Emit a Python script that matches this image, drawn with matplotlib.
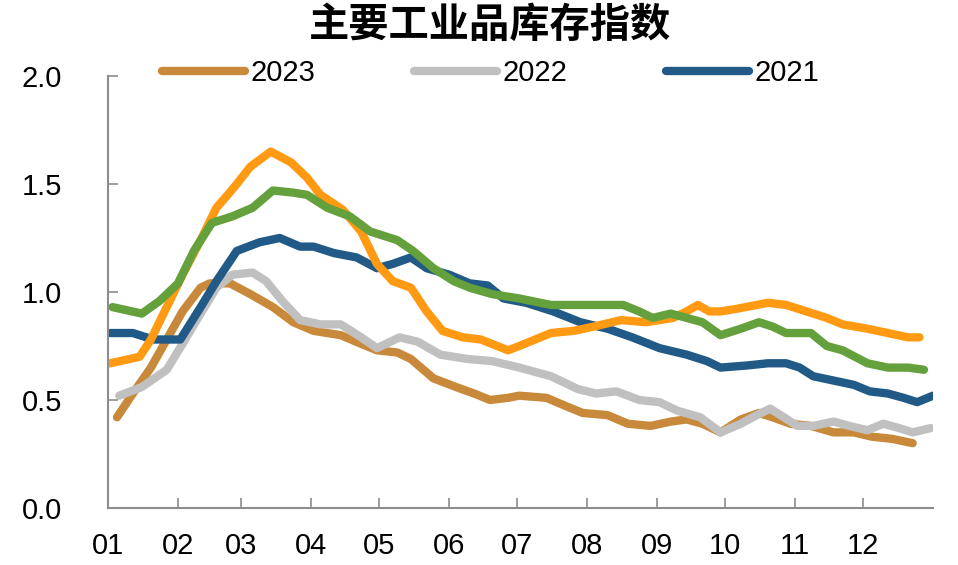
import matplotlib.pyplot as plt
from matplotlib.lines import Line2D

plt.rcParams['font.family'] = ['Liberation Sans', 'DejaVu Sans']

# day of year -> index value
d2023 = [4, 11, 19, 26, 33, 41, 45, 54, 63, 73, 82, 91, 103, 112, 119, 128, 134, 144, 154, 162,
         169, 177, 182, 194, 203, 210, 221, 230, 240, 249, 256, 263, 271, 280, 288, 294, 302, 311,
         321, 330, 338, 347, 356]
v2023 = [0.42, 0.53, 0.65, 0.78, 0.91, 1.02, 1.04, 1.04, 0.99, 0.93, 0.86, 0.82, 0.80, 0.76, 0.73,
         0.72, 0.69, 0.60, 0.56, 0.53, 0.50, 0.51, 0.52, 0.51, 0.47, 0.44, 0.43, 0.39, 0.38, 0.40,
         0.41, 0.39, 0.35, 0.41, 0.44, 0.42, 0.39, 0.38, 0.35, 0.35, 0.33, 0.32, 0.30]

d2022 = [5, 15, 26, 33, 41, 48, 55, 64, 70, 77, 85, 94, 103, 112, 119, 129, 137, 147, 159, 170,
         182, 196, 208, 216, 225, 235, 244, 252, 262, 271, 280, 287, 293, 299, 305, 312, 321, 328,
         336, 343, 350, 356, 364]
v2022 = [0.52, 0.56, 0.64, 0.76, 0.90, 1.02, 1.08, 1.09, 1.05, 0.96, 0.87, 0.85, 0.85, 0.79, 0.74,
         0.79, 0.77, 0.71, 0.69, 0.68, 0.65, 0.61, 0.55, 0.53, 0.54, 0.50, 0.49, 0.45, 0.42, 0.35,
         0.39, 0.43, 0.46, 0.42, 0.38, 0.38, 0.40, 0.38, 0.36, 0.39, 0.37, 0.35, 0.37]

d2021 = [1, 11, 20, 32, 41, 48, 57, 67, 76, 85, 91, 100, 110, 119, 126, 134, 141, 151, 160, 168,
         175, 185, 197, 209, 221, 232, 244, 256, 265, 271, 283, 292, 300, 306, 312, 321, 330, 337,
         345, 352, 358, 365]
v2021 = [0.81, 0.81, 0.78, 0.78, 0.93, 1.05, 1.19, 1.23, 1.25, 1.21, 1.21, 1.18, 1.16, 1.11, 1.13,
         1.16, 1.11, 1.08, 1.04, 1.03, 0.97, 0.95, 0.91, 0.86, 0.83, 0.79, 0.74, 0.71, 0.68, 0.65,
         0.66, 0.67, 0.67, 0.65, 0.61, 0.59, 0.57, 0.54, 0.53, 0.51, 0.49, 0.52]

d2020 = [1, 14, 19, 26, 33, 41, 48, 53, 57, 63, 72, 81, 88, 94, 104, 112, 119, 126, 134, 141,
         148, 157, 165, 177, 182, 196, 206, 215, 227, 238, 250, 256, 261, 266, 271, 277, 292, 300,
         309, 318, 325, 336, 345, 354, 359]
v2020 = [0.67, 0.70, 0.78, 0.93, 1.08, 1.24, 1.39, 1.45, 1.50, 1.58, 1.65, 1.60, 1.53, 1.45, 1.38,
         1.28, 1.13, 1.05, 1.02, 0.91, 0.82, 0.79, 0.78, 0.73, 0.75, 0.81, 0.82, 0.84, 0.87, 0.86,
         0.88, 0.91, 0.94, 0.91, 0.91, 0.92, 0.95, 0.94, 0.91, 0.88, 0.85, 0.83, 0.81, 0.79, 0.79]

d2019 = [2, 15, 23, 31, 38, 46, 55, 64, 73, 82, 88, 97, 107, 116, 128, 135, 144, 153, 160, 170,
         182, 196, 206, 218, 228, 235, 241, 249, 256, 263, 271, 280, 288, 294, 300, 311, 318, 325,
         336, 345, 354, 361]
v2019 = [0.93, 0.90, 0.96, 1.04, 1.19, 1.32, 1.35, 1.39, 1.47, 1.46, 1.45, 1.39, 1.35, 1.28, 1.24,
         1.19, 1.11, 1.05, 1.02, 0.99, 0.97, 0.94, 0.94, 0.94, 0.94, 0.91, 0.88, 0.90, 0.88, 0.86,
         0.80, 0.83, 0.86, 0.84, 0.81, 0.81, 0.75, 0.73, 0.67, 0.65, 0.65, 0.64]

month_starts = [0, 31, 59, 90, 120, 151, 181, 212, 243, 273, 304, 334]
month_labels = ['01', '02', '03', '04', '05', '06', '07', '08', '09', '10', '11', '12']

colors = {'2023': '#C8893A', '2022': '#C0C0C0', '2021': '#215A86',
          '2020': '#FF9A12', '2019': '#64A03C'}

fig = plt.figure(figsize=(9.58, 5.65), dpi=100)
ax = fig.add_axes([0.1127, 0.1009, 0.8612, 0.7646])

lw = 6
series = [('2023', d2023, v2023), ('2022', d2022, v2022), ('2021', d2021, v2021),
          ('2020', d2020, v2020), ('2019', d2019, v2019)]
for name, d, v in series:
    ax.plot(d, v, color=colors[name], lw=lw, solid_capstyle='round', solid_joinstyle='round')

ax.set_xlim(0, 365)
ax.set_ylim(0, 2.0)
ax.set_xticks(month_starts)
ax.set_xticklabels(month_labels)
ax.set_yticks([0, 0.5, 1.0, 1.5, 2.0])
ax.set_yticklabels(['0.0', '0.5', '1.0', '1.5', '2.0'])

for s in ['top', 'right']:
    ax.spines[s].set_visible(False)
for s in ['left', 'bottom']:
    ax.spines[s].set_color('#8C8C8C')
    ax.spines[s].set_linewidth(1.5)
ax.tick_params(axis='both', direction='in', length=7, width=1.2, color='#8C8C8C',
               labelsize=21, labelcolor='black')
ax.tick_params(axis='x', pad=17)
ax.tick_params(axis='y', pad=33)

fig.text(0.512, 0.955, '主要工业品库存指数', ha='center', va='center', fontsize=29,
         fontweight='bold', family=['Noto Sans CJK SC', 'DejaVu Sans'])

handles = [Line2D([], [], color=colors[n], lw=lw, solid_capstyle='round') for n in ['2023', '2022', '2021']]
fig.legend(handles, ['2023', '2022', '2021'], loc='center', bbox_to_anchor=(0.512, 0.870),
           ncol=3, frameon=False, fontsize=21, handlelength=2.85, handletextpad=0.2,
           columnspacing=3.37)

fig.savefig('out.png', dpi=100)
